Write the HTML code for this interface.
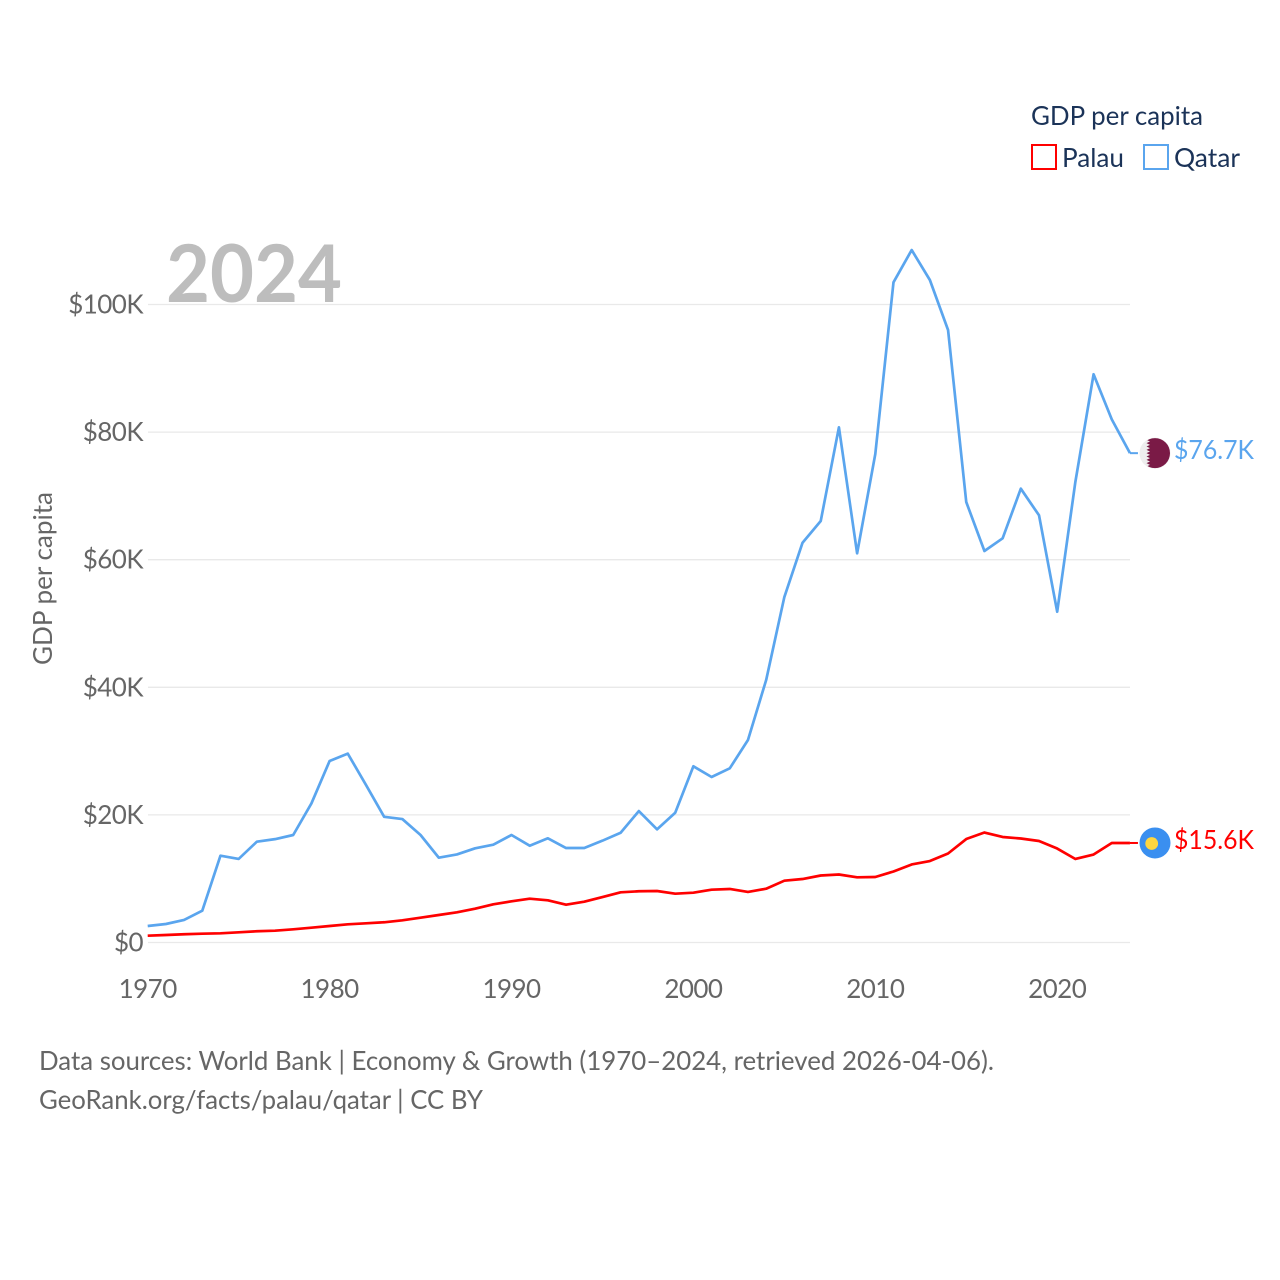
<!DOCTYPE html>
<html lang="en">
<head>
<meta charset="utf-8">
<title>GDP per capita: Palau and Qatar</title>
<style>
html,body{margin:0;padding:0;background:#fff;}
svg{display:block;}
text{font-family:"Lato","Carlito","Liberation Sans",sans-serif;}
</style>
</head>
<body>
<svg id="chart" xmlns="http://www.w3.org/2000/svg" width="1280" height="1280" viewBox="0 0 1280 1280">
  <rect width="1280" height="1280" fill="#fff"/>
  <g id="grid"></g>
  <g id="yticks"></g>
  <g id="xticks"></g>
  <text transform="translate(52,665) rotate(-90)" font-size="26" fill="#666" textLength="173" lengthAdjust="spacingAndGlyphs">GDP per capita</text>
  <text x="166" y="302" font-size="80" font-weight="700" fill="#bdbdbd" textLength="176" lengthAdjust="spacingAndGlyphs">2024</text>
  <g id="series"></g>

  <g id="flag-qatar">
    <clipPath id="clip-qatar"><circle r="15"/></clipPath>
    <circle r="15.5" fill="#eeeeee"/>
    <polygon clip-path="url(#clip-qatar)" fill="#7a1a46" points="16,-16 -5,-16 -5,-15 -8.5,-13.33 -5,-11.67 -8.5,-10 -5,-8.33 -8.5,-6.67 -5,-5 -8.5,-3.33 -5,-1.67 -8.5,0 -5,1.67 -8.5,3.33 -5,5 -8.5,6.67 -5,8.33 -8.5,10 -5,11.67 -8.5,13.33 -5,15 -5,16 16,16"/>
  </g>
  <g id="flag-palau">
    <circle r="15.5" fill="#3a8ff0"/>
    <circle cx="-3.3" cy="0.5" r="6.4" fill="#ffd640"/>
  </g>
  <text id="label-qatar" x="1174" font-size="26" fill="#5aa5ee" textLength="80" lengthAdjust="spacingAndGlyphs"></text>
  <text id="label-palau" x="1174" font-size="26" fill="#ff0000" textLength="80" lengthAdjust="spacingAndGlyphs"></text>

  <g>
    <text x="1031" y="125" font-size="26" fill="#1b3358" textLength="172" lengthAdjust="spacingAndGlyphs">GDP per capita</text>
    <g>
      <rect x="1032" y="145" width="24" height="24" fill="#fff" stroke="#ff0000" stroke-width="2"/>
      <text x="1062" y="167" font-size="26" fill="#1b3358" textLength="62" lengthAdjust="spacingAndGlyphs">Palau</text>
    </g>
    <g>
      <rect x="1144" y="145" width="24" height="24" fill="#fff" stroke="#5aa5ee" stroke-width="2"/>
      <text x="1174" y="167" font-size="26" fill="#1b3358" textLength="66" lengthAdjust="spacingAndGlyphs">Qatar</text>
    </g>
  </g>

  <text x="39" y="1070" font-size="26" fill="#666" textLength="955" lengthAdjust="spacingAndGlyphs">Data sources: World Bank | Economy &amp; Growth (1970–2024, retrieved 2026-04-06).</text>
  <text x="39" y="1109" font-size="26" fill="#666" textLength="444" lengthAdjust="spacingAndGlyphs">GeoRank.org/facts/palau/qatar | CC BY</text>
</svg>
<script>
const firstYear = 1970;
const xTickYears = [1970, 1980, 1990, 2000, 2010, 2020];
const yTickValues = [0, 20, 40, 60, 80, 100];
const yTickLabels = ["$0", "$20K", "$40K", "$60K", "$80K", "$100K"];
const qatarValues = [2.59, 2.90, 3.53, 4.98, 13.6, 13.1, 15.8, 16.2, 16.85, 21.8, 28.45, 29.6, 24.7, 19.7, 19.35, 16.85, 13.3, 13.8, 14.76, 15.33, 16.85, 15.17, 16.33, 14.81, 14.81, 15.96, 17.2, 20.6, 17.74, 20.34, 27.62, 25.94, 27.3, 31.74, 41.14, 54.15, 62.66, 66.07, 80.75, 61.0, 76.57, 103.48, 108.54, 103.84, 96.0, 69.04, 61.36, 63.35, 71.13, 66.96, 51.85, 72.22, 89.06, 82.0, 76.7];
const palauValues = [1.07, 1.18, 1.29, 1.38, 1.44, 1.60, 1.76, 1.85, 2.07, 2.32, 2.59, 2.85, 3.01, 3.17, 3.48, 3.89, 4.31, 4.73, 5.30, 5.99, 6.46, 6.87, 6.61, 5.92, 6.40, 7.13, 7.87, 8.03, 8.07, 7.65, 7.81, 8.28, 8.39, 7.92, 8.43, 9.69, 9.95, 10.5, 10.66, 10.22, 10.27, 11.13, 12.23, 12.77, 13.95, 16.22, 17.24, 16.54, 16.3, 15.91, 14.73, 13.09, 13.79, 15.6, 15.6];

const SVG_NS = "http://www.w3.org/2000/svg";
function xScale(year) { return 147.7 + (year - 1970) * 18.19; }
function yScale(value) { return 942.5 - value * 6.38; }

const gridGroup = document.getElementById("grid");
const yTickGroup = document.getElementById("yticks");
const xTickGroup = document.getElementById("xticks");
const seriesGroup = document.getElementById("series");

yTickValues.forEach(function (value, i) {
  const line = document.createElementNS(SVG_NS, "line");
  
  
  line.setAttribute("x1", 148);
  line.setAttribute("x2", 1130);
  line.setAttribute("y1", yScale(value));
  line.setAttribute("y2", yScale(value));
  line.setAttribute("stroke", "#e9e9e9");
  line.setAttribute("stroke-width", 1.3);
  gridGroup.appendChild(line);

  const label = document.createElementNS(SVG_NS, "text");
  
  
  label.setAttribute("x", 143);
  label.setAttribute("y", yScale(value) + 9);
  label.setAttribute("text-anchor", "end");
  label.setAttribute("font-size", 26);
  label.setAttribute("letter-spacing", "-0.55");
  label.setAttribute("fill", "#666");
  label.textContent = yTickLabels[i];
  yTickGroup.appendChild(label);
});

xTickYears.forEach(function (year) {
  const label = document.createElementNS(SVG_NS, "text");
  
  
  label.setAttribute("x", xScale(year));
  label.setAttribute("y", 998);
  label.setAttribute("text-anchor", "middle");
  label.setAttribute("font-size", 26);
  label.setAttribute("letter-spacing", "-0.55");
  label.setAttribute("fill", "#666");
  label.textContent = String(year);
  xTickGroup.appendChild(label);
});

function linePoints(values) {
  return values.map(function (v, i) {
    return xScale(firstYear + i).toFixed(2) + "," + yScale(v).toFixed(2);
  }).join(" ");
}

function lastPoint(values) {
  const i = values.length - 1;
  return { x: xScale(firstYear + i), y: yScale(values[i]), value: values[i] };
}

const palauLine = document.createElementNS(SVG_NS, "polyline");


palauLine.setAttribute("points", linePoints(palauValues));
palauLine.setAttribute("fill", "none");
palauLine.setAttribute("stroke", "#ff0000");
palauLine.setAttribute("stroke-width", 2.7);
palauLine.setAttribute("stroke-linejoin", "round");
seriesGroup.appendChild(palauLine);

const qatarLine = document.createElementNS(SVG_NS, "polyline");


qatarLine.setAttribute("points", linePoints(qatarValues));
qatarLine.setAttribute("fill", "none");
qatarLine.setAttribute("stroke", "#5aa5ee");
qatarLine.setAttribute("stroke-width", 2.7);
qatarLine.setAttribute("stroke-linejoin", "round");
seriesGroup.appendChild(qatarLine);

const palauEnd = lastPoint(palauValues);
const qatarEnd = lastPoint(qatarValues);

const palauConnector = document.createElementNS(SVG_NS, "line");


palauConnector.setAttribute("x1", palauEnd.x);
palauConnector.setAttribute("x2", palauEnd.x + 8);
palauConnector.setAttribute("y1", palauEnd.y);
palauConnector.setAttribute("y2", palauEnd.y);
palauConnector.setAttribute("stroke", "#ff0000");
palauConnector.setAttribute("stroke-width", 2);
seriesGroup.appendChild(palauConnector);

const qatarConnector = document.createElementNS(SVG_NS, "line");


qatarConnector.setAttribute("x1", qatarEnd.x);
qatarConnector.setAttribute("x2", qatarEnd.x + 8);
qatarConnector.setAttribute("y1", qatarEnd.y);
qatarConnector.setAttribute("y2", qatarEnd.y);
qatarConnector.setAttribute("stroke", "#5aa5ee");
qatarConnector.setAttribute("stroke-width", 2);
seriesGroup.appendChild(qatarConnector);

document.getElementById("flag-palau").setAttribute("transform", "translate(1155," + palauEnd.y + ")");
document.getElementById("flag-qatar").setAttribute("transform", "translate(1155," + qatarEnd.y + ")");

const palauLabel = document.getElementById("label-palau");
palauLabel.setAttribute("y", palauEnd.y + 6);
palauLabel.textContent = "$" + palauEnd.value.toFixed(1) + "K";

const qatarLabel = document.getElementById("label-qatar");
qatarLabel.setAttribute("y", qatarEnd.y + 6);
qatarLabel.textContent = "$" + qatarEnd.value.toFixed(1) + "K";
</script>
</body>
</html>
